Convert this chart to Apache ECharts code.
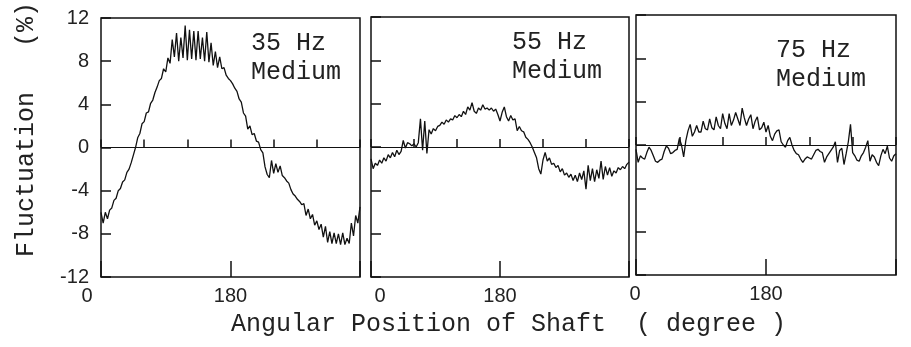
<!DOCTYPE html>
<html>
<head>
<meta charset="utf-8">
<script src="https://cdn.jsdelivr.net/npm/echarts@6/dist/echarts.min.js"></script>
<style>
html, body { margin: 0; padding: 0; background: #fff; }
#chart { width: 911px; height: 347px; }
</style>
</head>
<body>
<div id="chart"></div>
<script>
// shaft angle (degree) of every sample
var angles = [
    0, 3, 6, 9, 12, 15, 18, 21, 24, 27,
    30, 33, 36, 39, 42, 45, 48, 51, 54, 57,
    60, 63, 66, 69, 72, 75, 78, 81, 84, 87,
    90, 93, 96, 99, 102, 105, 108, 111, 114, 117,
    120, 123, 126, 129, 132, 135, 138, 141, 144, 147,
    150, 153, 156, 159, 162, 165, 168, 171, 174, 177,
    180, 183, 186, 189, 192, 195, 198, 201, 204, 207,
    210, 213, 216, 219, 222, 225, 228, 231, 234, 237,
    240, 243, 246, 249, 252, 255, 258, 261, 264, 267,
    270, 273, 276, 279, 282, 285, 288, 291, 294, 297,
    300, 303, 306, 309, 312, 315, 318, 321, 324, 327,
    330, 333, 336, 339, 342, 345, 348, 351, 354, 357,
    360
];

// fluctuation (%) at 35 Hz
var hz35 = [
    -6.0, -7.0, -6.0, -6.6, -5.8, -5.6, -4.9, -4.7, -4.0, -3.8,
    -3.2, -3.0, -2.3, -2.0, -1.4, -0.7, 0.0, 0.9, 1.3, 2.2,
    2.4, 3.2, 3.3, 4.1, 4.4, 5.1, 5.6, 6.2, 6.4, 7.3,
    7.0, 8.3, 7.8, 10.0, 8.4, 10.6, 8.0, 10.2, 8.3, 11.3,
    8.1, 10.9, 8.2, 10.8, 8.1, 10.8, 8.2, 10.2, 8.0, 10.7,
    7.9, 9.7, 7.6, 8.9, 7.4, 8.4, 7.3, 7.4, 6.7, 6.4,
    6.2, 5.9, 5.5, 5.2, 4.5, 4.2, 3.2, 2.9, 1.7, 2.0,
    1.2, 1.3, 0.6, 0.5, -0.2, -0.5, -1.8, -2.5, -2.8, -1.2,
    -2.4, -1.5, -2.3, -1.7, -2.6, -2.8, -3.1, -3.3, -3.9, -4.3,
    -4.5, -4.8, -5.0, -5.3, -5.2, -6.3, -5.7, -6.6, -6.2, -7.2,
    -6.8, -7.6, -7.1, -8.3, -7.3, -8.8, -7.8, -8.9, -7.9, -8.9,
    -8.0, -9.0, -7.9, -9.0, -8.4, -8.9, -7.0, -8.2, -6.3, -7.0,
    -5.5
];

// fluctuation (%) at 55 Hz
var hz55 = [
    -1.1, -2.0, -1.5, -1.7, -1.2, -1.5, -1.0, -1.3, -0.7, -1.0,
    -0.5, -0.9, -0.3, -0.7, -0.4, 0.6, -0.1, 0.4, 0.3, 0.1,
    0.3, 0.0, 0.4, 2.6, -0.3, 2.4, -0.6, 1.6, 1.2, 1.7,
    1.5, 1.9, 2.0, 2.3, 2.1, 2.5, 2.3, 2.6, 2.5, 2.9,
    2.7, 3.0, 2.8, 3.3, 3.0, 3.7, 3.4, 4.1, 3.3, 3.1,
    3.6, 3.4, 3.9, 3.5, 3.6, 3.4, 3.6, 3.3, 3.5, 3.0,
    2.4, 3.2, 3.7, 2.8, 2.4, 2.9, 2.5, 2.6, 1.5, 1.9,
    1.5, 1.4, 0.9, 0.7, 0.4, 0.0, -0.5, -1.0, -2.0, -2.5,
    -1.2, -0.5, -1.3, -1.0, -1.6, -1.5, -1.9, -1.7, -2.3, -2.0,
    -2.6, -2.4, -2.8, -2.5, -3.1, -2.6, -3.2, -2.4, -3.0, -2.2,
    -3.9, -1.7, -3.1, -2.0, -3.2, -2.1, -2.9, -1.3, -3.0, -1.8,
    -2.6, -1.9, -2.7, -2.2, -2.4, -1.9, -2.1, -1.8, -2.0, -1.6,
    -1.4
];

// fluctuation (%) at 75 Hz
var hz75 = [
    -0.4, -1.6, -1.0, -1.2, -1.3, -0.7, -0.2, -0.5, -1.0, -1.5,
    -1.6, -1.4, -1.3, -0.6, -0.1, -0.3, -0.8, -0.7, -0.5, -0.4,
    0.6, 0.0, -1.1, 0.4, 1.3, 1.9, 0.8, 1.2, 1.8, 1.2,
    1.2, 2.2, 1.5, 1.4, 2.4, 1.6, 1.4, 2.6, 1.8, 1.5,
    2.9, 2.0, 1.5, 2.9, 1.8, 2.3, 3.0, 2.4, 1.8, 3.4,
    2.5, 1.8, 2.4, 2.8, 1.5, 2.2, 2.6, 1.4, 1.6, 2.1,
    1.2, 1.8, 0.8, 0.4, 1.0, 1.3, 1.4, 0.3, 0.0, -0.2,
    0.4, 0.7, 0.0, -0.5, -0.8, -0.9, -1.3, -1.6, -1.3, -1.1,
    -1.2, -1.3, -0.9, -0.5, -0.4, -0.6, -0.7, -1.6, -1.1, -0.8,
    -0.5, -0.2, 0.3, -1.6, -0.5, -0.3, -1.8, -0.8, 0.3, 1.9,
    -0.7, -1.0, -1.4, -1.5, -1.0, -0.7, -0.2, 0.4, -1.5, -0.9,
    -1.1, -1.6, -1.9, -1.0, -0.4, -0.8, -0.1, -1.2, -1.5, -1.0,
    -0.8
];

var panelLabels = ['35 Hz\nMedium', '55 Hz\nMedium', '75 Hz\nMedium'];
var xLabels = [0, 180];

var mono = '"Liberation Mono", "DejaVu Sans Mono", monospace';
var sans = '"Liberation Sans", Arial, sans-serif';

var panels = [
    { values: hz35, left: 101, top: 17, width: 259, zeroPad: [0, 28, 0, 0], textX: 251, textY: 29 },
    { values: hz55, left: 371, top: 17, width: 258, zeroPad: [0, 0, 0, 18], textX: 512, textY: 28 },
    { values: hz75, left: 636, top: 15, width: 260, zeroPad: [0, 2, 0, 0], textX: 776, textY: 36 }
];

function pairs(vals) {
    return angles.map(function (a, i) { return [a, vals[i]]; });
}

var grids = [], xAxes = [], yAxes = [], series = [], graphics = [];

panels.forEach(function (p, i) {
    grids.push({
        left: p.left, top: p.top, width: p.width, height: 260,
        show: true, borderColor: '#111', borderWidth: 1.5, backgroundColor: 'transparent'
    });
    // minor ticks every 60 degrees, labels only at 0 and 180
    xAxes.push({
        type: 'value', gridIndex: i, position: 'bottom', min: 0, max: 360, interval: 60,
        axisLine: { show: false },
        axisTick: { inside: true, length: 8, lineStyle: { color: '#111', width: 1.5 } },
        splitLine: { show: false },
        axisLabel: {
            margin: 9, color: '#222', fontFamily: sans, fontSize: 20,
            formatter: function (v) {
                if (v === 0) return '{z|0}';
                if (xLabels.indexOf(v) >= 0) return '{n|' + v + '}';
                return '';
            },
            rich: {
                z: { fontFamily: sans, fontSize: 20, color: '#222', padding: p.zeroPad },
                n: { fontFamily: sans, fontSize: 20, color: '#222' }
            }
        }
    });
    // long tick at 180
    xAxes.push({
        type: 'value', gridIndex: i, position: 'bottom', min: 0, max: 360, interval: 180,
        axisLine: { show: false },
        axisTick: { inside: true, length: 16, lineStyle: { color: '#111', width: 1.5 } },
        splitLine: { show: false },
        axisLabel: { show: false }
    });
    yAxes.push({
        type: 'value', gridIndex: i, min: -12, max: 12, interval: 4,
        axisLine: { show: false },
        axisTick: { inside: true, length: 10, lineStyle: { color: '#111', width: 1.5 } },
        splitLine: { show: false },
        axisLabel: { show: i === 0, margin: 12, color: '#222', fontFamily: sans, fontSize: 20 },
        name: i === 0 ? 'Fluctuation   (%)' : '',
        nameLocation: 'middle',
        nameGap: 62,
        nameRotate: 90,
        nameTextStyle: { fontFamily: mono, fontSize: 25, color: '#222', padding: [0, 0, 0, 36] }
    });
    series.push({
        type: 'line',
        xAxisIndex: i * 2,
        yAxisIndex: i,
        data: pairs(p.values),
        showSymbol: false,
        lineStyle: { color: '#111', width: 1.3 },
        markLine: {
            silent: true, symbol: 'none', label: { show: false },
            lineStyle: { color: '#111', width: 1.2, type: 'solid' },
            data: [{ yAxis: 0 }]
        }
    });
    graphics.push({
        type: 'text', left: p.textX, top: p.textY,
        style: { text: panelLabels[i], font: '25px ' + mono, fill: '#222', lineHeight: 29 }
    });
});

graphics.push({
    type: 'text', left: 231, top: 312,
    style: { text: 'Angular Position of Shaft  ( degree )', font: '25px ' + mono, fill: '#222' }
});

var myChart = echarts.init(document.getElementById('chart'));
myChart.setOption({
    animation: false,
    backgroundColor: '#fff',
    grid: grids,
    xAxis: xAxes,
    yAxis: yAxes,
    series: series,
    graphic: graphics
});
</script>
</body>
</html>
